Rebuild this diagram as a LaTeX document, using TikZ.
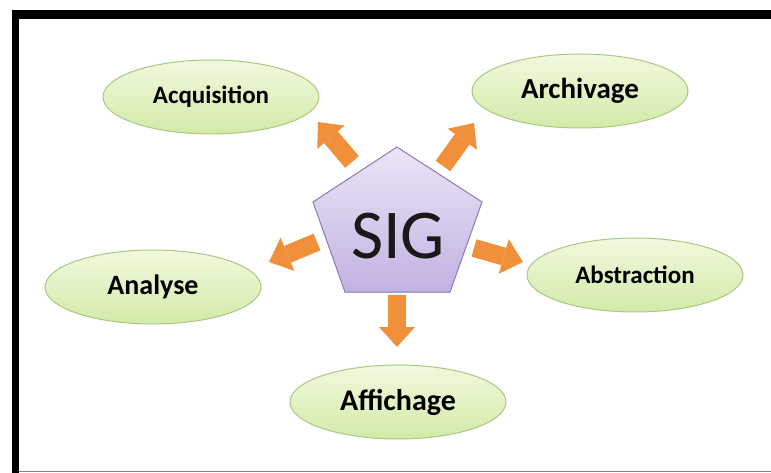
\documentclass[tikz,border=0pt]{standalone}
\usepackage{fontspec}
\setmainfont{Carlito}
\usepackage{tikz}
\usetikzlibrary{arrows.meta,shapes.geometric}

\definecolor{ellTop}{HTML}{F1F9DE}
\definecolor{ellBot}{HTML}{D3EAA8}
\definecolor{ellEdge}{HTML}{A8C884}
\definecolor{sigTop}{HTML}{EBE5F6}
\definecolor{sigBot}{HTML}{C2B2E2}
\definecolor{sigEdge}{HTML}{8C7EBC}
\definecolor{arrOrange}{HTML}{F0903A}

\tikzset{
  task/.style={ellipse, minimum width=216pt, minimum height=74pt, inner sep=0pt,
    top color=ellTop, bottom color=ellBot, draw=ellEdge, line width=1pt},
  fs/.style={font=\fontsize{#1}{#1}\selectfont\bfseries},
  bigarrow/.style={line width=18pt, color=arrOrange,
    -{Triangle[length=20pt,width=36pt,line width=0pt]}}
}

\begin{document}
\begin{tikzpicture}[x=1pt,y=-1pt]
  \useasboundingbox (0,0) rectangle (771,473);
  \fill (12,10) rectangle (771,19);
  \fill (12,10) rectangle (19,473);
  \draw[gray, line width=1.5pt] (19,471.5) -- (771,471.5);

  \node[task, fs=25] (acq) at (211,97) {Acquisition};
  \node[task, fs=29] (arc) at (580,91) {Archivage};
  \node[task, fs=28] (ana) at (153,287) {Analyse};
  \node[task, fs=25] (abs) at (635,275) {Abstraction};
  \node[task, fs=30] (aff) at (398,402) {Affichage};

  \coordinate (p1) at (397,147);
  \coordinate (p2) at (482,202);
  \coordinate (p3) at (450,292);
  \coordinate (p4) at (345,292);
  \coordinate (p5) at (313,202);
  \filldraw[top color=sigTop, bottom color=sigBot, draw=sigEdge, line width=1pt]
    (p1) -- (p2) -- (p3) -- (p4) -- (p5) -- cycle;
  \node[font=\fontsize{70}{70}\selectfont, text=black!90] (sig) at (398,236) {SIG};

  \coordinate (t1) at (352,162); \coordinate (h1) at (318,122);
  \coordinate (t2) at (443,166); \coordinate (h2) at (474,123);
  \coordinate (t3) at (317,242); \coordinate (h3) at (269,262);
  \coordinate (t4) at (474,248); \coordinate (h4) at (523,262);
  \coordinate (t5) at (397,295); \coordinate (h5) at (397,347);
  \path[bigarrow]
    (t1) edge (h1)
    (t2) edge (h2)
    (t3) edge (h3)
    (t4) edge (h4)
    (t5) edge (h5);
\end{tikzpicture}
\end{document}
